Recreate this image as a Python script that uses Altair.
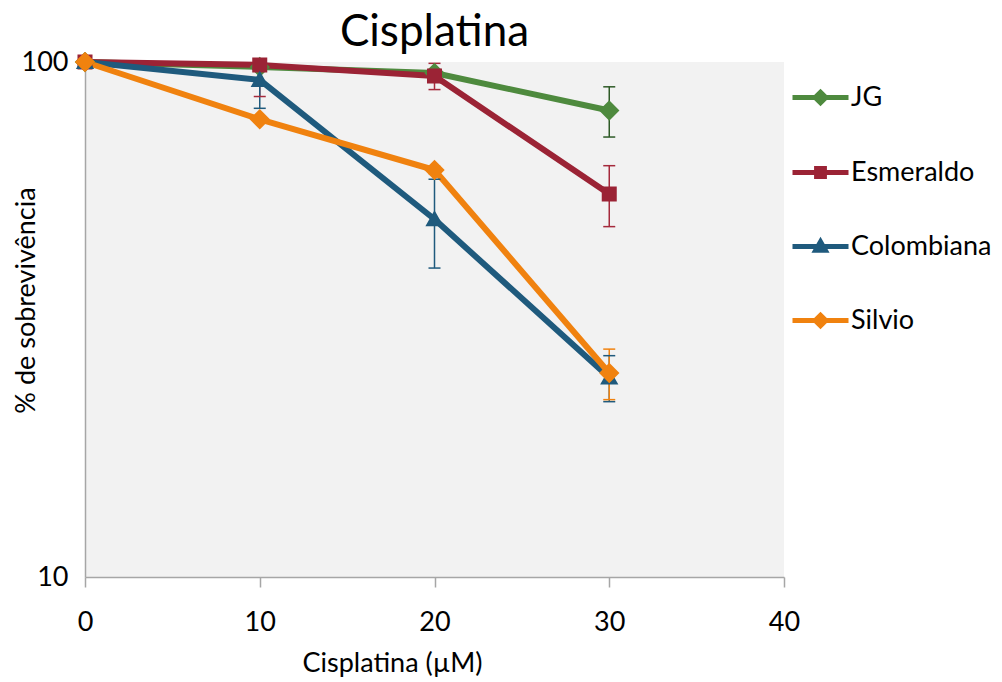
import altair as alt
import pandas as pd

# ---- data ----
conc = [0, 10, 20, 30]
series = ["JG", "Esmeraldo", "Colombiana", "Silvio"]

jg = [100, 97.8, 95.2, 80.5]
jg_err = [0, 1, 1.5, 9]
esm = [100, 98.7, 93.9, 55.4]
esm_err = [0, 13, 5.5, 7.5]
col = [100, 92.3, 49.5, 24.4]
col_err = [0, 11, 9.7, 2.5]
sil = [100, 77.4, 61.7, 24.9]
sil_err = [0, 1, 1, 2.8]

x_ticks = [0, 10, 20, 30, 40]
y_ticks = [10, 100]

line_colors = ["#4e8a3e", "#9b2335", "#1f5a7d", "#f0820f"]
err_colors = ["#2e5a27", "#a52a3c", "#1f5a7d", "#f0820f"]
# legend symbol = line + marker; on the plot only the filled marker shows
shapes = [
    "M-1,0H1M0,-0.19L0.19,0L0,0.19L-0.19,0Z",
    "M-1,0H1M-0.14,-0.14H0.14V0.14H-0.14Z",
    "M-1,0H1M0,-0.17L0.17,0.13L-0.17,0.13Z",
    "M-1,0H1M0,-0.19L0.19,0L0,0.19L-0.19,0Z",
]

vals = {"JG": jg, "Esmeraldo": esm, "Colombiana": col, "Silvio": sil}
errs = {"JG": jg_err, "Esmeraldo": esm_err, "Colombiana": col_err, "Silvio": sil_err}

rows = []
for s in series:
    for c, v, e in zip(conc, vals[s], errs[s]):
        rows.append({"Serie": s, "conc": c, "surv": v, "lo": v - e, "hi": v + e, "err": e})
df = pd.DataFrame(rows)
err_df = df[df["err"] > 0]
cap_df = err_df.melt(id_vars=["Serie", "conc"], value_vars=["lo", "hi"], value_name="capv")

FONT = "Lato"
xscale = alt.Scale(domain=[0, 40], nice=False)
yscale = alt.Scale(type="log", domain=[10, 100], nice=False)

xaxis = alt.Axis(values=x_ticks, grid=False, tickSize=10, tickColor="#a6a6a6",
                 domainColor="#a6a6a6", domainWidth=1.5, tickWidth=1.5,
                 labelFontSize=27, labelPadding=22, titleFontSize=27,
                 titleX=307, titleY=73, titleAnchor="middle", labelFlush=False)
yaxis = alt.Axis(values=y_ticks, grid=False, ticks=False, tickSize=0,
                 domainColor="#a6a6a6", domainWidth=1.5,
                 labelFontSize=27, labelPadding=17, titleFontSize=27,
                 titleX=-45, titleY=238, format="d", labelFlush=False)

X = alt.X("conc:Q", scale=xscale, axis=xaxis, title="Cisplatina (µM)")


def Y(field):
    return alt.Y(field, scale=yscale, axis=yaxis, title="% de sobrevivência")


lines = alt.Chart(df).mark_line(strokeWidth=6, strokeJoin="round").encode(
    x=X, y=Y("surv:Q"),
    color=alt.Color("Serie:N", scale=alt.Scale(domain=series, range=line_colors),
                    legend=alt.Legend(title=None)),
    order="conc:Q",
)

err_stroke = alt.Stroke("Serie:N", scale=alt.Scale(domain=series, range=err_colors), legend=None)

err_rules = alt.Chart(err_df).mark_rule(strokeWidth=1.5, clip=True).encode(
    x=X, y=Y("lo:Q"), y2="hi:Q", stroke=err_stroke,
)

err_caps = alt.Chart(cap_df).mark_point(shape="M-1,0H1", size=144, strokeWidth=1.5,
                                        filled=False, opacity=1, clip=True).encode(
    x=X, y=Y("capv:Q"), stroke=err_stroke,
)

points = alt.Chart(df).mark_point(filled=True, opacity=1, size=11500).encode(
    x=X, y=Y("surv:Q"),
    fill=alt.Fill("Serie:N", scale=alt.Scale(domain=series, range=line_colors),
                  legend=alt.Legend(title=None)),
    shape=alt.Shape("Serie:N", scale=alt.Scale(domain=series, range=shapes),
                    legend=alt.Legend(title=None)),
)

chart = alt.layer(lines, err_rules, err_caps, points).properties(
    width=699, height=515,
    title=alt.TitleParams("Cisplatina", fontSize=44, font=FONT, fontWeight="normal",
                          anchor="middle", color="black", offset=4, dy=11),
    autosize=alt.AutoSizeParams(type="none"),
    padding={"left": 85, "top": 62, "right": 218, "bottom": 105},
).configure_view(
    stroke=None, fill="#f2f2f2"
).configure_axis(
    labelFont=FONT, titleFont=FONT, labelColor="black", titleColor="black",
    titleFontWeight="normal",
).configure_legend(
    orient="none", legendX=705, legendY=5, symbolSize=3136, symbolStrokeWidth=5,
    labelFont=FONT, labelFontSize=27, labelColor="black", rowPadding=29,
    labelOffset=0, padding=0, titlePadding=0,
)

chart.save("out.html", embed_options={"renderer": "svg", "actions": False})
